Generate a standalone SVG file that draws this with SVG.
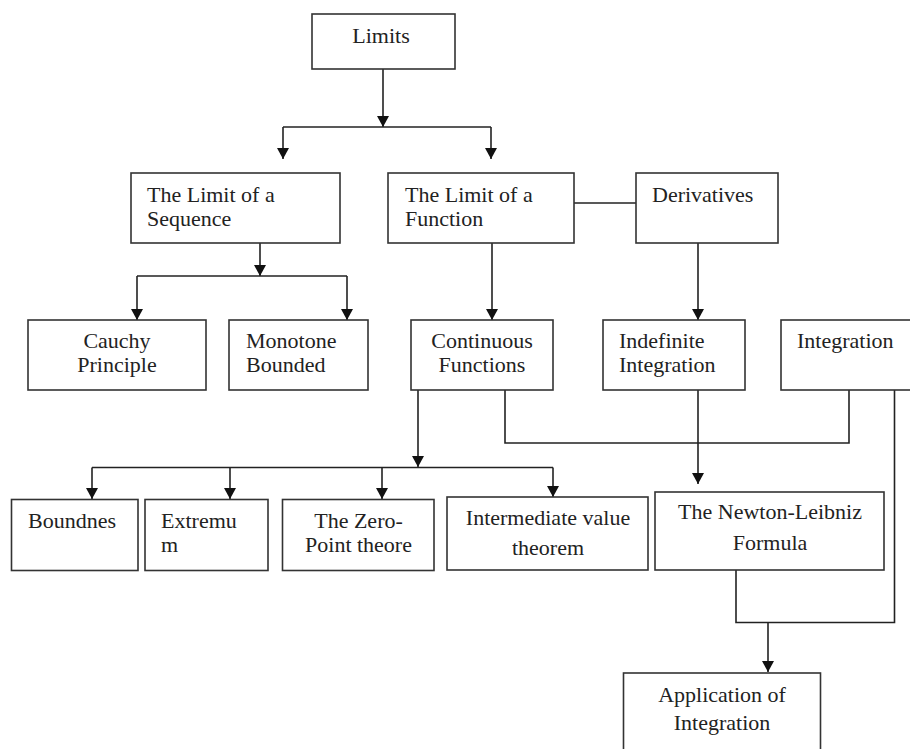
<svg xmlns="http://www.w3.org/2000/svg" width="910" height="749" viewBox="0 0 910 749">
<style>
.box{fill:#fff;stroke:#333;stroke-width:1.6}
.t{font-family:"Liberation Serif","Times New Roman",serif;font-size:22px;fill:#222}
.c{text-anchor:middle}
.ln{fill:none;stroke:#222;stroke-width:1.6}
</style>
<defs>
<marker id="ah" markerUnits="userSpaceOnUse" markerWidth="12" markerHeight="12" refX="11" refY="6" orient="auto">
<path d="M0,0 L11,6 L0,12 z" fill="#111"/>
</marker>
</defs>
<rect width="910" height="749" fill="#fff"/>
<g id="connectors">
<path class="ln" d="M383,69 V127" marker-end="url(#ah)"/>
<path class="ln" d="M283,127 H491"/>
<path class="ln" d="M283,127 V159" marker-end="url(#ah)"/>
<path class="ln" d="M491,127 V159" marker-end="url(#ah)"/>
<path class="ln" d="M260,243 V276" marker-end="url(#ah)"/>
<path class="ln" d="M137,276 H347"/>
<path class="ln" d="M137,276 V320" marker-end="url(#ah)"/>
<path class="ln" d="M347,276 V320" marker-end="url(#ah)"/>
<path class="ln" d="M492,243 V320" marker-end="url(#ah)"/>
<path class="ln" d="M574,203 H636"/>
<path class="ln" d="M698,243 V320" marker-end="url(#ah)"/>
<path class="ln" d="M418,390 V467" marker-end="url(#ah)"/>
<path class="ln" d="M92,467.5 H553"/>
<path class="ln" d="M92,467.5 V499" marker-end="url(#ah)"/>
<path class="ln" d="M230,467.5 V499" marker-end="url(#ah)"/>
<path class="ln" d="M382,467.5 V499" marker-end="url(#ah)"/>
<path class="ln" d="M553,467.5 V497" marker-end="url(#ah)"/>
<path class="ln" d="M505,390 V443 H849 V390"/>
<path class="ln" d="M698,390 V484" marker-end="url(#ah)"/>
<path class="ln" d="M894.5,390 V622.5 H736 V570"/>
<path class="ln" d="M768,622.5 V672" marker-end="url(#ah)"/>
</g>
<g id="limits"><rect class="box" x="312" y="14" width="143" height="55"/><text class="t c" x="381" y="43">Limits</text></g>
<g id="sequence"><rect class="box" x="131" y="173" width="209" height="70"/><text class="t" x="147" y="202">The Limit of a</text><text class="t" x="147" y="226">Sequence</text></g>
<g id="function"><rect class="box" x="388" y="173" width="186" height="70"/><text class="t" x="405" y="202">The Limit of a</text><text class="t" x="405" y="226">Function</text></g>
<g id="derivatives"><rect class="box" x="636" y="173" width="142" height="70"/><text class="t" x="652" y="202">Derivatives</text></g>
<g id="cauchy"><rect class="box" x="28" y="320" width="178" height="70"/><text class="t c" x="117" y="348">Cauchy</text><text class="t c" x="117" y="372">Principle</text></g>
<g id="monotone"><rect class="box" x="229" y="320" width="139" height="70"/><text class="t" x="246" y="348">Monotone</text><text class="t" x="246" y="372">Bounded</text></g>
<g id="continuous"><rect class="box" x="411" y="320" width="142" height="70"/><text class="t c" x="482" y="348">Continuous</text><text class="t c" x="482" y="372">Functions</text></g>
<g id="indefinite"><rect class="box" x="603" y="320" width="142" height="70"/><text class="t" x="619" y="348">Indefinite</text><text class="t" x="619" y="372">Integration</text></g>
<g id="integration"><rect class="box" x="781" y="320" width="140" height="70"/><text class="t" x="797" y="348">Integration</text></g>
<g id="boundnes"><rect class="box" x="11.5" y="499.5" width="126.5" height="71"/><text class="t" x="28" y="528">Boundnes</text></g>
<g id="extremum"><rect class="box" x="145" y="499.5" width="123" height="71"/><text class="t" x="161" y="528">Extremu</text><text class="t" x="161" y="552">m</text></g>
<g id="zeropoint"><rect class="box" x="282.5" y="499.5" width="151.5" height="71"/><text class="t c" x="358.5" y="528">The Zero-</text><text class="t c" x="358.5" y="552">Point theore</text></g>
<g id="intermediate"><rect class="box" x="447" y="497" width="201" height="73"/><text class="t c" x="548" y="525">Intermediate value</text><text class="t c" x="548" y="555">theorem</text></g>
<g id="newton"><rect class="box" x="655" y="492" width="229" height="78"/><text class="t c" x="770" y="519">The Newton-Leibniz</text><text class="t c" x="770" y="550">Formula</text></g>
<g id="application"><rect class="box" x="623.5" y="673" width="197" height="90"/><text class="t c" x="722" y="702">Application of</text><text class="t c" x="722" y="730">Integration</text></g>
</svg>
